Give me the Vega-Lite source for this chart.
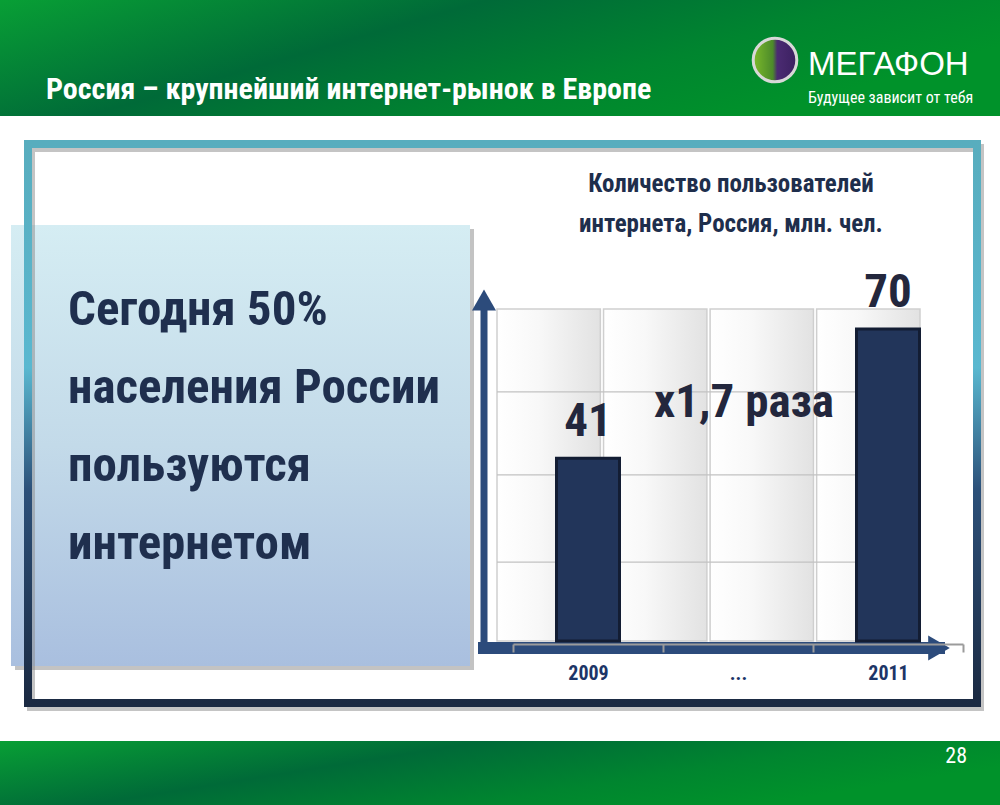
{
  "$schema": "https://vega.github.io/schema/vega-lite/v6.json",
  "width": 423,
  "height": 332,
  "autosize": {"type": "none"},
  "padding": {"left": 497, "top": 309, "right": 80, "bottom": 164},
  "background": "#ffffff",
  "config": {"view": {"stroke": null}, "font": "Roboto Condensed, DejaVu Sans Condensed, Roboto, sans-serif"},
  "resolve": {"scale": {"x": "independent", "y": "independent"}},
  "layer": [
    {
      "data": {"values": [{"id": "header"}]},
      "mark": {"type": "rect", "fill": {"gradient": "linear", "x1": 0, "y1": 0, "x2": 1, "y2": 0.4, "stops": [{"offset": 0, "color": "#089f35"}, {"offset": 0.42, "color": "#006a38"}, {"offset": 0.75, "color": "#00852f"}, {"offset": 1, "color": "#00922a"}]}},
      "encoding": {
        "x": {"field": "id", "type": "nominal", "scale": {"type": "band", "range": [-497, 503], "paddingInner": 0, "paddingOuter": 0}, "axis": null},
        "y": {"field": "id", "type": "nominal", "scale": {"type": "band", "range": [-309, -193], "paddingInner": 0, "paddingOuter": 0}, "axis": null}
      }
    },
    {
      "data": {"values": [{"id": "footer"}]},
      "mark": {"type": "rect", "fill": {"gradient": "linear", "x1": 0, "y1": 0, "x2": 1, "y2": 0.4, "stops": [{"offset": 0, "color": "#089f35"}, {"offset": 0.42, "color": "#006a38"}, {"offset": 0.75, "color": "#00852f"}, {"offset": 1, "color": "#00922a"}]}},
      "encoding": {
        "x": {"field": "id", "type": "nominal", "scale": {"type": "band", "range": [-497, 503], "paddingInner": 0, "paddingOuter": 0}, "axis": null},
        "y": {"field": "id", "type": "nominal", "scale": {"type": "band", "range": [432, 496], "paddingInner": 0, "paddingOuter": 0}, "axis": null}
      }
    },
    {
      "data": {"values": [{"id": "panel"}]},
      "mark": {"type": "rect", "fill": "#7a7a7a", "opacity": 0.45, "xOffset": 4, "yOffset": 4},
      "encoding": {
        "x": {"field": "id", "type": "nominal", "scale": {"type": "band", "range": [-486, -27], "paddingInner": 0, "paddingOuter": 0}, "axis": null},
        "y": {"field": "id", "type": "nominal", "scale": {"type": "band", "range": [-84, 357], "paddingInner": 0, "paddingOuter": 0}, "axis": null}
      }
    },
    {
      "data": {"values": [{"id": "panel"}]},
      "mark": {"type": "rect", "fill": {"gradient": "linear", "x1": 0, "y1": 0, "x2": 0, "y2": 1, "stops": [{"offset": 0, "color": "#d5edf3"}, {"offset": 0.5, "color": "#c3dae9"}, {"offset": 1, "color": "#a9bfdf"}]}},
      "encoding": {
        "x": {"field": "id", "type": "nominal", "scale": {"type": "band", "range": [-486, -27], "paddingInner": 0, "paddingOuter": 0}, "axis": null},
        "y": {"field": "id", "type": "nominal", "scale": {"type": "band", "range": [-84, 357], "paddingInner": 0, "paddingOuter": 0}, "axis": null}
      }
    },
    {
      "data": {"values": [{"id": "frame"}]},
      "mark": {"type": "rect", "filled": false, "stroke": "#8a8a8a", "strokeOpacity": 0.5, "strokeWidth": 8, "xOffset": 3, "yOffset": 4},
      "encoding": {
        "x": {"field": "id", "type": "nominal", "scale": {"type": "band", "range": [-469, 480], "paddingInner": 0, "paddingOuter": 0}, "axis": null},
        "y": {"field": "id", "type": "nominal", "scale": {"type": "band", "range": [-165, 394], "paddingInner": 0, "paddingOuter": 0}, "axis": null}
      }
    },
    {
      "data": {"values": [{"id": "frame"}]},
      "mark": {"type": "rect", "filled": false, "strokeWidth": 8, "stroke": {"gradient": "linear", "x1": 0, "y1": 0, "x2": 0, "y2": 1, "stops": [{"offset": 0, "color": "#58adbe"}, {"offset": 0.4, "color": "#5ab8d0"}, {"offset": 0.62, "color": "#2c5079"}, {"offset": 1, "color": "#1b2a42"}]}},
      "encoding": {
        "x": {"field": "id", "type": "nominal", "scale": {"type": "band", "range": [-469, 480], "paddingInner": 0, "paddingOuter": 0}, "axis": null},
        "y": {"field": "id", "type": "nominal", "scale": {"type": "band", "range": [-165, 394], "paddingInner": 0, "paddingOuter": 0}, "axis": null}
      }
    },
    {
      "data": {"values": [{"id": "lead", "text": ["Сегодня 50%", "населения России", "пользуются", "интернетом"]}]},
      "mark": {"type": "text", "align": "left", "baseline": "alphabetic", "fontSize": 49, "fontWeight": "bold", "color": "#1f2f4e", "lineHeight": 78},
      "encoding": {
        "x": {"field": "id", "type": "nominal", "scale": {"type": "point", "range": [-429, -429], "padding": 0}, "axis": null},
        "y": {"field": "id", "type": "nominal", "scale": {"type": "point", "range": [16, 16], "padding": 0}, "axis": null},
        "text": {"field": "text"}
      }
    },
    {
      "data": {"values": [{"id": "title", "text": "Россия – крупнейший интернет-рынок в Европе"}]},
      "mark": {"type": "text", "align": "left", "baseline": "alphabetic", "fontSize": 30, "fontWeight": "bold", "color": "#ffffff"},
      "encoding": {
        "x": {"field": "id", "type": "nominal", "scale": {"type": "point", "range": [-451, -451], "padding": 0}, "axis": null},
        "y": {"field": "id", "type": "nominal", "scale": {"type": "point", "range": [-210, -210], "padding": 0}, "axis": null},
        "text": {"field": "text"}
      }
    },
    {
      "data": {"values": [{"id": "logo"}]},
      "mark": {"type": "point", "shape": "circle", "filled": true, "size": 1900, "opacity": 1, "stroke": "#d8d8d8", "strokeWidth": 3, "fill": {"gradient": "linear", "x1": 0, "y1": 0, "x2": 1, "y2": 0, "stops": [{"offset": 0, "color": "#7cba2a"}, {"offset": 0.45, "color": "#4c8a2a"}, {"offset": 0.55, "color": "#4b2b72"}, {"offset": 1, "color": "#3b2060"}]}},
      "encoding": {
        "x": {"field": "id", "type": "nominal", "scale": {"type": "point", "range": [278, 278], "padding": 0}, "axis": null},
        "y": {"field": "id", "type": "nominal", "scale": {"type": "point", "range": [-249, -249], "padding": 0}, "axis": null}
      }
    },
    {
      "data": {"values": [{"id": "brand", "text": "МЕГАФОН"}]},
      "mark": {"type": "text", "align": "left", "baseline": "alphabetic", "font": "Liberation Sans", "fontSize": 33, "color": "#ffffff"},
      "encoding": {
        "x": {"field": "id", "type": "nominal", "scale": {"type": "point", "range": [311, 311], "padding": 0}, "axis": null},
        "y": {"field": "id", "type": "nominal", "scale": {"type": "point", "range": [-234, -234], "padding": 0}, "axis": null},
        "text": {"field": "text"}
      }
    },
    {
      "data": {"values": [{"id": "slogan", "text": "Будущее зависит от тебя"}]},
      "mark": {"type": "text", "align": "left", "baseline": "alphabetic", "fontSize": 16, "color": "#ffffff"},
      "encoding": {
        "x": {"field": "id", "type": "nominal", "scale": {"type": "point", "range": [311, 311], "padding": 0}, "axis": null},
        "y": {"field": "id", "type": "nominal", "scale": {"type": "point", "range": [-206, -206], "padding": 0}, "axis": null},
        "text": {"field": "text"}
      }
    },
    {
      "data": {"values": [{"id": "page", "text": "28"}]},
      "mark": {"type": "text", "align": "right", "baseline": "alphabetic", "fontSize": 22, "color": "#ffffff"},
      "encoding": {
        "x": {"field": "id", "type": "nominal", "scale": {"type": "point", "range": [470, 470], "padding": 0}, "axis": null},
        "y": {"field": "id", "type": "nominal", "scale": {"type": "point", "range": [454, 454], "padding": 0}, "axis": null},
        "text": {"field": "text"}
      }
    },
    {
      "data": {"values": [{"id": "charttitle", "text": ["Количество пользователей", "интернета, Россия, млн. чел."]}]},
      "mark": {"type": "text", "align": "center", "baseline": "alphabetic", "fontSize": 25, "fontWeight": "bold", "color": "#1e2e4c", "lineHeight": 40},
      "encoding": {
        "x": {"field": "id", "type": "nominal", "scale": {"type": "point", "range": [234, 234], "padding": 0}, "axis": null},
        "y": {"field": "id", "type": "nominal", "scale": {"type": "point", "range": [-117, -117], "padding": 0}, "axis": null},
        "text": {"field": "text"}
      }
    },
    {
      "data": {"values": [{"col": "a"}, {"col": "b"}, {"col": "c"}, {"col": "d"}]},
      "mark": {"type": "rect", "stroke": "#cfcfcf", "strokeWidth": 1.5, "fill": {"gradient": "linear", "x1": 0, "y1": 0, "x2": 1, "y2": 0, "stops": [{"offset": 0, "color": "#ffffff"}, {"offset": 0.4, "color": "#f8f8f8"}, {"offset": 1, "color": "#e2e2e2"}]}},
      "encoding": {
        "x": {"field": "col", "type": "nominal", "scale": {"type": "band", "paddingInner": 0.03, "paddingOuter": 0}, "axis": null}
      }
    },
    {
      "data": {"values": [{"level": 17.7}, {"level": 37.3}, {"level": 55.9}]},
      "mark": {"type": "rule", "stroke": "#c2c2c2", "strokeWidth": 1.2},
      "encoding": {
        "y": {"field": "level", "type": "quantitative", "scale": {"domain": [0, 74.5]}, "axis": null}
      }
    },
    {
      "data": {"values": [{"part": "axes"}]},
      "layer": [
        {
          "mark": {"type": "rule", "stroke": "#2c4b7b", "strokeWidth": 7},
          "encoding": {
            "x": {"datum": 0, "type": "quantitative", "scale": {"domain": [0, 1], "range": [-13, 442]}, "axis": null},
            "y": {"datum": 0, "type": "quantitative", "scale": {"domain": [0, 1], "range": [339, -9]}, "axis": null},
            "y2": {"datum": 1}
          }
        },
        {
          "mark": {"type": "rule", "stroke": "#2c4b7b", "strokeWidth": 12, "strokeCap": "square"},
          "encoding": {
            "x": {"datum": 0, "type": "quantitative"},
            "x2": {"datum": 1},
            "y": {"datum": 0, "type": "quantitative"}
          }
        },
        {
          "mark": {"type": "point", "shape": "triangle-up", "filled": true, "size": 576, "color": "#2c4b7b", "opacity": 1},
          "encoding": {
            "x": {"datum": 0, "type": "quantitative"},
            "y": {"datum": 1, "type": "quantitative"}
          }
        },
        {
          "mark": {"type": "point", "shape": "triangle-right", "filled": true, "size": 625, "color": "#2c4b7b", "opacity": 1},
          "encoding": {
            "x": {"datum": 1, "type": "quantitative"},
            "y": {"datum": 0, "type": "quantitative"}
          }
        }
      ]
    },
    {
      "data": {"values": [{"year": "2009", "users": 41}, {"year": "...", "users": null}, {"year": "2011", "users": 70}]},
      "mark": {"type": "bar", "fill": "#22355a", "stroke": "#131d33", "strokeWidth": 3, "width": {"band": 0.42}},
      "encoding": {
        "x": {"field": "year", "type": "nominal", "sort": null, "scale": {"type": "band", "domain": ["2009", "...", "2011"], "range": [16, 466], "paddingInner": 0, "paddingOuter": 0},
          "axis": {"orient": "bottom", "title": null, "offset": 3, "domainColor": "#9b9b9b", "domainWidth": 2, "tickColor": "#9b9b9b", "tickWidth": 2, "tickSize": 8, "tickBand": "extent", "labelFontWeight": "bold", "labelFontSize": 20, "labelColor": "#1d3567", "labelPadding": 11, "labelAngle": 0, "zindex": 1}},
        "y": {"field": "users", "type": "quantitative", "scale": {"domain": [0, 74.5]}, "axis": null}
      }
    },
    {
      "data": {"values": [{"year": "2009", "users": 41}, {"year": "...", "users": null}, {"year": "2011", "users": 70}]},
      "mark": {"type": "text", "baseline": "alphabetic", "align": "center", "dy": -22, "fontSize": 47, "fontWeight": "bold", "color": "#23273d"},
      "encoding": {
        "x": {"field": "year", "type": "nominal", "sort": null, "scale": {"type": "band", "domain": ["2009", "...", "2011"], "range": [16, 466], "paddingInner": 0, "paddingOuter": 0}, "axis": null},
        "y": {"field": "users", "type": "quantitative", "scale": {"domain": [0, 74.5]}, "axis": null},
        "text": {"field": "users", "type": "quantitative"}
      }
    },
    {
      "data": {"values": [{"year": "...", "note": "x1,7 раза"}]},
      "mark": {"type": "text", "baseline": "alphabetic", "align": "center", "dx": 6, "fontSize": 47, "fontWeight": "bold", "color": "#23273d"},
      "encoding": {
        "x": {"field": "year", "type": "nominal", "sort": null, "scale": {"type": "band", "domain": ["2009", "...", "2011"], "range": [16, 466], "paddingInner": 0, "paddingOuter": 0}, "axis": null},
        "y": {"datum": 50.3, "type": "quantitative", "scale": {"domain": [0, 74.5]}, "axis": null},
        "text": {"field": "note"}
      }
    }
  ]
}
